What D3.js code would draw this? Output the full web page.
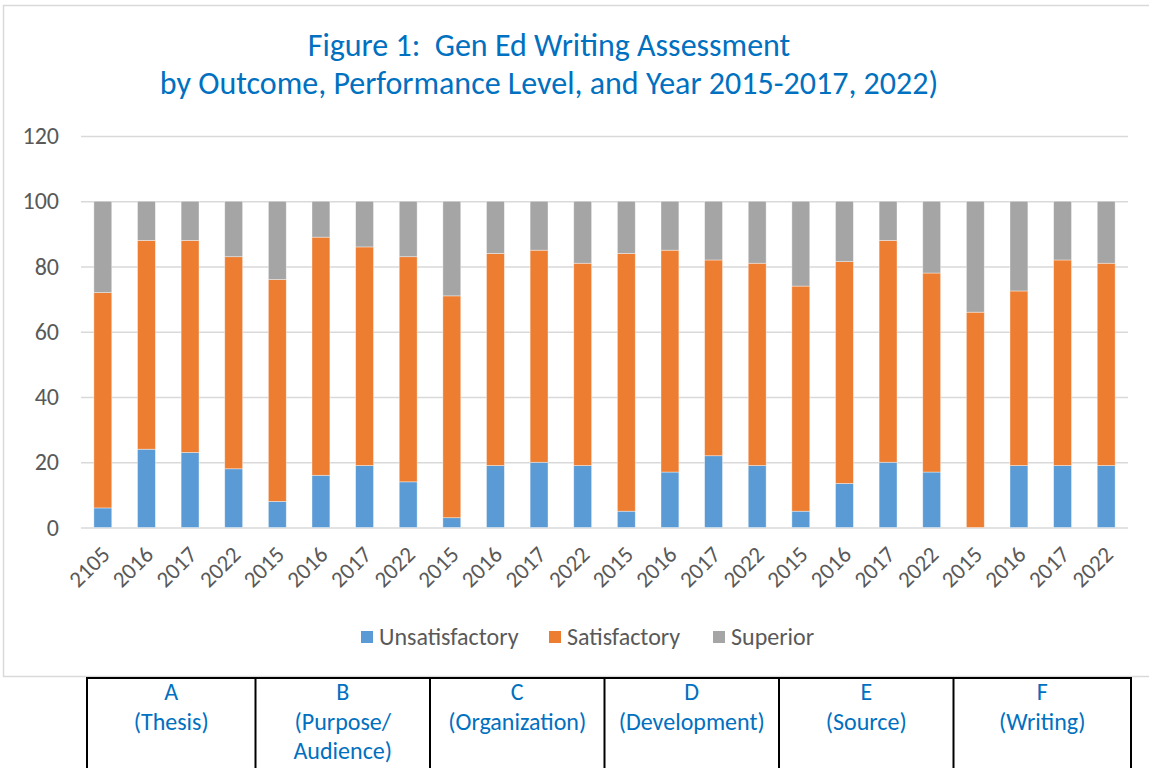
<!DOCTYPE html>
<html>
<head>
<meta charset="utf-8">
<script src="https://cdn.jsdelivr.net/npm/d3@7"></script>
<style>
  html, body { margin: 0; padding: 0; background: #fff; }
  svg { display: block; }
</style>
</head>
<body>
<div id="chart"></div>
<script>
// Données (pourcentages par barre)
const yearLabels = ['2105', '2016', '2017', '2022', '2015', '2016', '2017', '2022',
                    '2015', '2016', '2017', '2022', '2015', '2016', '2017', '2022',
                    '2015', '2016', '2017', '2022', '2015', '2016', '2017', '2022']
const unsatisfactory = [6, 24, 23, 18, 8, 16, 19, 14, 3, 19, 20, 19, 5, 17, 22, 19, 5, 13.5, 20, 17, 0, 19, 19, 19]
const satisfactory   = [66, 64, 65, 65, 68, 73, 67, 69, 68, 65, 65, 62, 79, 68, 60, 62, 69, 68, 68, 61, 66, 53.5, 63, 62]
const superior       = [28, 12, 12, 17, 24, 11, 14, 17, 29, 16, 15, 19, 16, 15, 18, 19, 26, 18.5, 12, 22, 34, 27.5, 18, 19]
const seriesNames = ['Unsatisfactory', 'Satisfactory', 'Superior']
const yTicks = [0, 20, 40, 60, 80, 100, 120]
const outcomeLetters = ['A', 'B', 'C', 'D', 'E', 'F']
const outcomeNames = [['(Thesis)'], ['(Purpose/', 'Audience)'], ['(Organization)'],
                      ['(Development)'], ['(Source)'], ['(Writing)']]
const titleLines = ['Figure 1:  Gen Ed Writing Assessment',
                    'by Outcome, Performance Level, and Year 2015-2017, 2022)']

const COLORS = {
  Unsatisfactory: '#5B9BD5',
  Satisfactory:   '#ED7D31',
  Superior:       '#A5A5A5',
}
const FONT = "Carlito, Calibri, 'Open Sans', sans-serif"
const BLUE = '#0070C0'
const GREY_TEXT = '#595959'
const GRID = '#D9D9D9'

const width = 1149, height = 768
const plot = { left: 81, right: 1128, top: 136, bottom: 527.5 }

const rows = yearLabels.map((y, i) => ({
  i,
  Unsatisfactory: unsatisfactory[i],
  Satisfactory: satisfactory[i],
  Superior: superior[i],
}))

const svg = d3.select('#chart').append('svg')
  .attr('width', width)
  .attr('height', height)
  .style('font-family', FONT)

// Cadre du graphique
svg.append('rect')
  .attr('x', 3.5).attr('y', 5.5)
  .attr('width', width + 10).attr('height', 671)
  .attr('fill', '#fff')
  .attr('stroke', GRID)
  .attr('stroke-width', 1.5)

// Titre
svg.append('text')
  .attr('x', 549).attr('y', 56)
  .attr('text-anchor', 'middle')
  .attr('fill', BLUE)
  .attr('font-size', 32)
  .style('white-space', 'pre')
  .selectAll('tspan')
  .data(titleLines)
  .join('tspan')
  .attr('x', 549)
  .attr('dy', (d, i) => i === 0 ? 0 : 37.5)
  .text(d => d)

// Scales
const x = d3.scaleBand()
  .domain(rows.map(d => d.i))
  .range([plot.left, plot.right])
  .paddingInner(0.59)
  .paddingOuter(0.295)

const y = d3.scaleLinear()
  .domain([0, 120])
  .range([plot.bottom, plot.top])

// Grille
svg.append('g')
  .attr('transform', `translate(${plot.left},0)`)
  .call(d3.axisLeft(y).tickValues(yTicks).tickSize(-(plot.right - plot.left)).tickFormat(''))
  .call(g => g.select('.domain').remove())
  .call(g => g.selectAll('.tick line').attr('stroke', GRID).attr('stroke-width', 1.5))

// Axe Y
svg.append('g')
  .attr('transform', `translate(${plot.left - 22},0)`)
  .call(d3.axisLeft(y).tickValues(yTicks).tickSize(0).tickPadding(0))
  .call(g => g.select('.domain').remove())
  .call(g => g.selectAll('.tick text')
    .attr('fill', GREY_TEXT)
    .attr('font-size', 24)
    .attr('font-family', FONT))

// Barres empilées
const stacked = d3.stack().keys(seriesNames)(rows)

svg.append('g')
  .selectAll('g')
  .data(stacked)
  .join('g')
  .attr('fill', d => COLORS[d.key])
  .selectAll('rect')
  .data(d => d)
  .join('rect')
  .attr('x', d => x(d.data.i))
  .attr('y', d => y(d[1]))
  .attr('width', x.bandwidth())
  .attr('height', d => y(d[0]) - y(d[1]))
  .attr('stroke', '#fff')
  .attr('stroke-opacity', 0.5)
  .attr('stroke-width', 0.75)

// Axe X — étiquettes inclinées
svg.append('g')
  .selectAll('text')
  .data(rows)
  .join('text')
  .attr('transform', d => `translate(${x(d.i) + x.bandwidth() / 2 - 3},${plot.bottom + 17}) rotate(-45)`)
  .attr('text-anchor', 'end')
  .attr('dy', '0.7em')
  .attr('fill', GREY_TEXT)
  .attr('font-size', 23)
  .text(d => yearLabels[d.i])

// Légende
const legendX = [361, 549, 713]
const legend = svg.append('g')
seriesNames.forEach((name, i) => {
  legend.append('rect')
    .attr('x', legendX[i]).attr('y', 631)
    .attr('width', 12).attr('height', 12)
    .attr('fill', COLORS[name])
  legend.append('text')
    .attr('x', legendX[i] + 18).attr('y', 645)
    .attr('fill', GREY_TEXT)
    .attr('font-size', 24)
    .text(name)
})

// Tableau des résultats sous le graphique
const groupSize = 4
const edges = d3.range(outcomeLetters.length + 1).map(k => {
  if (k === 0) return plot.left + 6
  if (k === outcomeLetters.length) return plot.right + 3
  return x(k * groupSize) - x.step() * x.paddingInner() / 2
})

const table = svg.append('g')
table.append('line')
  .attr('x1', edges[0] - 1).attr('x2', edges[edges.length - 1] + 1)
  .attr('y1', 678).attr('y2', 678)
  .attr('stroke', '#000').attr('stroke-width', 2)

edges.forEach(ex => {
  table.append('line')
    .attr('x1', ex).attr('x2', ex)
    .attr('y1', 677).attr('y2', height + 2)
    .attr('stroke', '#000').attr('stroke-width', 2)
})

outcomeLetters.forEach((letter, k) => {
  const cx = (edges[k] + edges[k + 1]) / 2
  const lines = [letter, ...outcomeNames[k]]
  table.append('text')
    .attr('text-anchor', 'middle')
    .attr('fill', BLUE)
    .attr('font-size', 24)
    .selectAll('tspan')
    .data(lines)
    .join('tspan')
    .attr('x', cx)
    .attr('y', (d, i) => 700 + i * 29.5)
    .text(d => d)
})
</script>
</body>
</html>
